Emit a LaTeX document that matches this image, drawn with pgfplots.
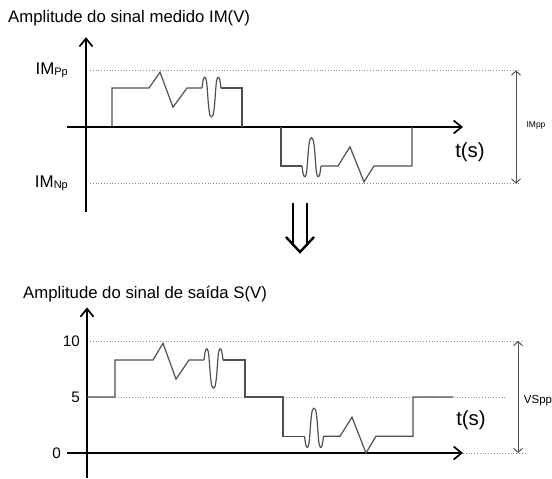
\documentclass[border=0pt]{standalone}
\usepackage{fontspec}
\setmainfont{Liberation Sans}
\usepackage{pgfplots}
\pgfplotsset{compat=1.18}
\usetikzlibrary{arrows.meta}
\definecolor{sig}{HTML}{505050}
\definecolor{dots}{HTML}{8A8A8A}
\pgfplotsset{
  sch/.style={
    axis lines=middle, anchor=south west, clip=false,
    xtick=\empty, major tick length=0pt,
    axis line style={line width=1.9bp, black},
    every inner x axis line/.append style={-{Straight Barb[length=8bp,width=13bp,line width=1.7bp]}},
    every inner y axis line/.append style={-{Straight Barb[length=8bp,width=13bp,line width=1.7bp]}},
    hide obscured y ticks=false, hide obscured x ticks=false,
    yticklabel style={anchor=east, inner sep=0pt, text=black},
  },
  sg/.style={color=sig, line width=1.2bp, line join=miter},
  dt/.style={color=dots, line width=0.8bp, dash pattern=on 0.8bp off 2bp},
  dbl/.style={color=sig, line width=1bp, {Straight Barb[length=4bp,width=9bp]}-{Straight Barb[length=4bp,width=9bp]}},
}
\begin{document}
\begin{tikzpicture}
\path[use as bounding box] (0bp,0bp) rectangle (552bp,-479bp);
\coordinate (topSW) at (67bp,-211.75bp);
\coordinate (botSW) at (67bp,-477.64bp);

% titles
\node[anchor=base west, inner sep=0pt, font=\fontsize{16.8}{20}\selectfont] at (8bp,-22bp) {Amplitude do sinal medido IM(V)};
\node[anchor=base west, inner sep=0pt, font=\fontsize{16.8}{20}\selectfont] at (23bp,-298bp) {Amplitude do sinal de saída S(V)};

% ===== top panel =====
\begin{axis}[sch,
  at={(topSW)},
  x=10bp, y=56.5bp,
  xmin=-1.9, xmax=37.7, ymin=-1.5, ymax=1.59,
  ytick={-1,1},
  yticklabels={IM{\fontsize{11}{11}\selectfont\raisebox{-0.6bp}{Np}}, IM{\fontsize{11}{11}\selectfont\raisebox{-0.6bp}{Pp}}},
  yticklabel style={font=\fontsize{17}{20}\selectfont, xshift=-18bp},
]
\addplot[dt] coordinates {(0.4,1) (43.5,1)};
\addplot[dt] coordinates {(0.4,-1) (43.5,-1)};
\addplot[dbl] coordinates {(43,1) (43,-1)};
% positive part
\addplot[sg] coordinates {(2.6,0) (2.6,0.69) (6.3,0.69) (7.4,0.97) (8.7,0.35) (10.1,0.69) (11.6,0.69)};
\addplot[sg, smooth] coordinates {(11.60,0.69) (11.73,0.842) (11.90,0.88) (12.07,0.785) (12.25,0.384) (12.40,0.205) (12.55,0.18) (12.70,0.205) (12.85,0.384) (13.03,0.785) (13.20,0.88) (13.37,0.842) (13.50,0.69)};
\addplot[sg] coordinates {(13.5,0.69) (15.6,0.69) (15.6,0)};
% negative part
\addplot[sg] coordinates {(19.5,0) (19.5,-0.69) (21.6,-0.69)};
\addplot[sg, smooth] coordinates {(21.60,-0.69) (21.73,-0.842) (21.90,-0.88) (22.07,-0.785) (22.25,-0.39) (22.40,-0.215) (22.55,-0.19) (22.70,-0.215) (22.85,-0.39) (23.03,-0.785) (23.20,-0.88) (23.37,-0.842) (23.50,-0.69)};
\addplot[sg] coordinates {(23.5,-0.69) (25.2,-0.69) (26.4,-0.35) (27.8,-0.97) (28.8,-0.69) (32.6,-0.69) (32.6,0)};
\node[font=\fontsize{20.5}{24}\selectfont, inner sep=0pt] at (axis cs:38.4,-0.44) {t(s)};
\node[font=\fontsize{8.5}{10}\selectfont, inner sep=0pt] at (axis cs:45,0.02) {IMpp};
\end{axis}

% double down arrow
\draw[line width=2.4bp, black] (293bp,-203bp) -- (293bp,-246bp);
\draw[line width=2.4bp, black] (307bp,-203bp) -- (307bp,-246bp);
\draw[line width=2.4bp, black, line join=miter] (286bp,-237bp) -- (300bp,-252bp) -- (314bp,-237bp);

% ===== bottom panel =====
\begin{axis}[sch,
  at={(botSW)},
  x=10bp, y=11.2bp,
  xmin=-2.0, xmax=37.6, ymin=-2.2, ymax=13.0,
  ytick={5,10}, yticklabels={5,10},
  yticklabel style={font=\fontsize{15.3}{18}\selectfont, xshift=-7bp},
  extra y ticks={0}, extra y tick labels={0},
  extra y tick style={yticklabel style={xshift=-19bp}},
]
\addplot[dt] coordinates {(0.3,10) (43.6,10)};
\addplot[dt] coordinates {(0.3,5) (41.8,5)};
\addplot[dt] coordinates {(37.6,0) (44,0)};
\addplot[dbl] coordinates {(43.1,10) (43.1,0)};
\addplot[sg] coordinates {(0,5) (2.8,5) (2.8,8.3) (6.6,8.3) (7.6,9.8) (8.9,6.6) (10.2,8.3) (11.7,8.3)};
\addplot[sg, smooth] coordinates {(11.70,8.3) (11.83,9.1) (12.00,9.3) (12.17,8.8) (12.35,6.8) (12.50,5.93) (12.65,5.8) (12.80,5.93) (12.95,6.8) (13.13,8.8) (13.30,9.3) (13.47,9.1) (13.60,8.3)};
\addplot[sg] coordinates {(13.6,8.3) (15.8,8.3) (15.8,5) (19.6,5) (19.6,1.5) (21.75,1.5)};
\addplot[sg, smooth] coordinates {(21.75,1.5) (21.88,0.7) (22.05,0.5) (22.22,1.0) (22.40,3.0) (22.55,3.875) (22.70,4.0) (22.85,3.875) (23.00,3.0) (23.18,1.0) (23.35,0.5) (23.52,0.7) (23.65,1.5)};
\addplot[sg] coordinates {(23.65,1.5) (25.3,1.5) (26.5,3.2) (27.9,0) (28.9,1.5) (32.6,1.5) (32.6,5) (36.6,5)};
\node[font=\fontsize{20.5}{24}\selectfont, inner sep=0pt] at (axis cs:38.4,2.9) {t(s)};
\node[font=\fontsize{11.5}{13}\selectfont, inner sep=0pt] at (axis cs:45.1,4.7) {VSpp};
\end{axis}
\end{tikzpicture}
\end{document}
